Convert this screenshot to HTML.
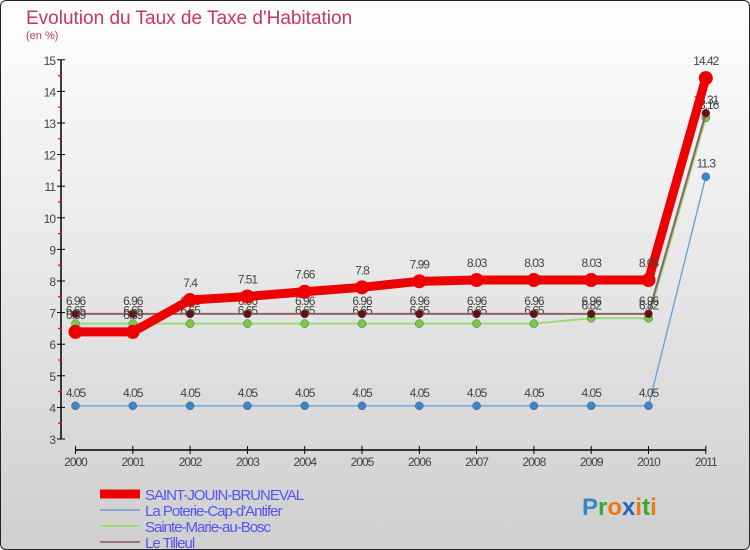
<!DOCTYPE html>
<html><head><meta charset="utf-8"><style>
html,body{margin:0;padding:0}
body{width:750px;height:550px;overflow:hidden;font-family:"Liberation Sans",sans-serif}
#wrap{position:absolute;left:0;top:0;width:748px;height:548px;border:1px solid #222;border-radius:6px;background:linear-gradient(#ffffff,#cfcfcf);overflow:hidden}
</style></head><body>
<div id="wrap">
<svg id="chart" width="750" height="550" style="position:absolute;left:-1px;top:-1px"></svg>
</div>
<script>
const years=["2000","2001","2002","2003","2004","2005","2006","2007","2008","2009","2010","2011"];
const saintJouin=[6.39,6.39,7.4,7.51,7.66,7.8,7.99,8.03,8.03,8.03,8.03,14.42];
const laPoterie=[4.05,4.05,4.05,4.05,4.05,4.05,4.05,4.05,4.05,4.05,4.05,11.3];
const sainteMarie=[6.65,6.65,6.65,6.65,6.65,6.65,6.65,6.65,6.65,6.82,6.82,13.16];
const leTilleul=[6.96,6.96,6.96,6.96,6.96,6.96,6.96,6.96,6.96,6.96,6.96,13.31];
const yTicks=[3,4,5,6,7,8,9,10,11,12,13,14,15];
const seriesNames=["SAINT-JOUIN-BRUNEVAL","La Poterie-Cap-d'Antifer","Sainte-Marie-au-Bosc","Le Tilleul"];

const NS="http://www.w3.org/2000/svg";
const svg=document.getElementById('chart');
function X(i){return 75.5+i*57.3;}
function Y(v){return 439-(v-3)*31.6;}
function mk(tag,attrs,parent){const e=document.createElementNS(NS,tag);for(const k in attrs)e.setAttribute(k,attrs[k]);(parent||svg).appendChild(e);return e;}

// title
let t=mk('text',{x:26,y:24,'font-size':19,fill:'#cc3366'});t.textContent="Evolution du Taux de Taxe d'Habitation";


t=mk('text',{x:26,y:39,'font-size':11,fill:'#cc3366'});t.textContent="(en %)";



// axes
let a=mk('line',{x1:61,y1:Y(15),x2:61,y2:Y(3),stroke:'#000','stroke-width':1.5});


yTicks.forEach(v=>{
  mk('line',{x1:57,x2:65,y1:Y(v),y2:Y(v),stroke:'#000','stroke-width':1});
  if(v<15){mk('line',{x1:58,x2:62,y1:Y(v+0.5),y2:Y(v+0.5),stroke:'#e00','stroke-width':1.2});}
  const l=mk('text',{x:55,y:Y(v)+5,'font-size':12,fill:'#444','text-anchor':'end','letter-spacing':'-1'});l.textContent=v;
  
  
});
a=mk('line',{x1:X(0),y1:450,x2:X(11),y2:450,stroke:'#000','stroke-width':1.5});


years.forEach((yr,i)=>{
  mk('line',{x1:X(i),x2:X(i),y1:446,y2:454,stroke:'#000','stroke-width':1});
  const l=mk('text',{x:X(i),y:466,'font-size':12,fill:'#444','text-anchor':'middle','letter-spacing':'-1'});l.textContent=yr;
  
  
});

function series(data,color,lw,r,dot,name,off){
  const g=mk('g',{});
  
  
  mk('polyline',{points:data.map((v,i)=>X(i)+','+Y(v)).join(' '),fill:'none',stroke:color,'stroke-width':lw,'stroke-linejoin':'round'},g);
  data.forEach((v,i)=>{
    const c=mk('circle',{cx:X(i),cy:Y(v),r:r,fill:dot,stroke:color==='#ee0000'?'none':'#555','stroke-width':0.5},g);
    
    
    const l=mk('text',{x:X(i),y:Y(v)-off,'font-size':12,fill:'#444','text-anchor':'middle','letter-spacing':'-1'},g);
    l.textContent=String(v);
    
    
  });
}
series(laPoterie,'#6fa8dc',1.5,4,'#3a88cc','la-poterie',9);
series(sainteMarie,'#99dd77',2,4,'#77cc44','sainte-marie',9);
series(leTilleul,'#886666',2,4,'#661111','le-tilleul',9);
series(saintJouin,'#ee0000',9,7,'#ee0000','saint-jouin',13);

// legend
const legColors=['#ee0000','#88aacc','#99dd77','#997777'];
const legW=[9,2,2,2];
seriesNames.forEach((n,i)=>{
  const y=492+i*16;
  const g=mk('g',{});
  
  
  mk('line',{x1:100,x2:140,y1:y+2,y2:y+2,stroke:legColors[i],'stroke-width':legW[i]},g);
  const l=mk('text',{x:145,y:y+8,'font-size':15,fill:'#5555ee','letter-spacing':'-1'},g);l.textContent=n;
});
// logo
const logo=mk('text',{x:582,y:515,'font-size':24,'font-weight':'bold'});


[['P','#3388cc'],['r','#33aa33'],['o','#ee7711'],['x','#2266bb'],['i','#ee7711'],['t','#33aa33'],['i','#ee7711']].forEach(([c,col])=>{const s=mk('tspan',{fill:col},logo);s.textContent=c;});
</script>
</body></html>
